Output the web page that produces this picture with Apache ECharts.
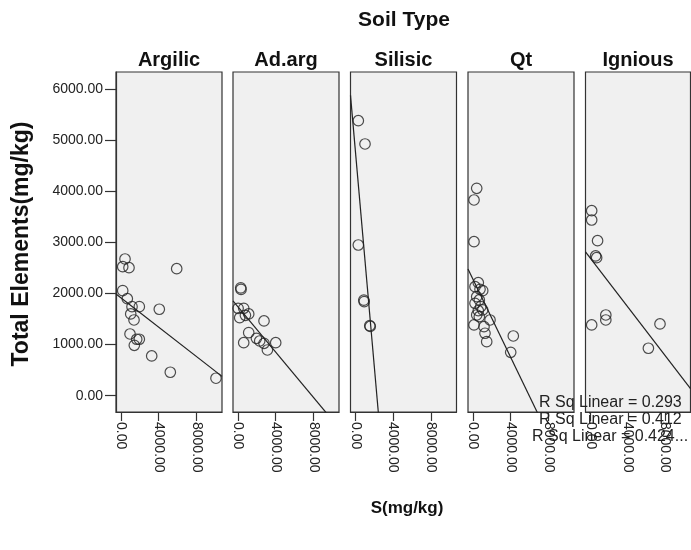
<!DOCTYPE html>
<html>
<head>
<meta charset="utf-8">
<script src="https://cdn.jsdelivr.net/npm/echarts@6/dist/echarts.min.js"></script>
<style>
html, body { margin: 0; padding: 0; background: #fff; }
#chart { width: 691px; height: 550px; }
</style>
</head>
<body>
<div id="chart"></div>
<script>
// soil types (panels)
var soilTypes = ['Argilic', 'Ad.arg', 'Silisic', 'Qt', 'Ignious'];

// S (mg/kg) and total elements (mg/kg) per soil type
var argilicS     = [434, 190, 857, 5905, 190, 677, 1175, 1947, 4063, 1037, 1386, 963, 1672, 1947, 1418, 3259, 5228, 10063];
var argilicTotal = [2675, 2524, 2505, 2485, 2055, 1898, 1742, 1742, 1691, 1599, 1481, 1207, 1104, 1104, 986, 777, 458, 341];

var adargS     = [300, 330, 20, 614, 1143, 190, 794, 2762, 1143, 614, 1958, 2307, 2762, 3122, 4000];
var adargTotal = [2110, 2080, 1710, 1710, 1599, 1526, 1573, 1462, 1233, 1037, 1123, 1070, 1025, 894, 1037];

var silisicS     = [307, 1016, 307, 890, 930, 1520, 1570];
var silisicTotal = [5382, 4926, 2949, 1870, 1840, 1370, 1355];

var qtS     = [402, 116, 116, 571, 222, 751, 1037, 402, 677, 222, 825, 571, 1037, 402, 677, 1810, 116, 1175, 1280, 1460, 4275, 4000];
var qtTotal = [4059, 3830, 3014, 2211, 2133, 2082, 2055, 1937, 1873, 1808, 1742, 1663, 1677, 1579, 1546, 1481, 1384, 1350, 1221, 1057, 1168, 849];

var igniousS     = [140, 140, 770, 560, 670, 140, 1650, 1650, 7440, 6200];
var igniousTotal = [3620, 3438, 3033, 2734, 2700, 1384, 1579, 1481, 1403, 928];

var yTicks = [0, 1000, 2000, 3000, 4000, 5000, 6000];
var xTicks = [0, 4000, 8000];
var rSqLabels = ['R Sq Linear = 0.293', 'R Sq Linear = 0.412', 'R Sq Linear = 0.424...'];

var xs = [argilicS, adargS, silisicS, qtS, igniousS];
var ys = [argilicTotal, adargTotal, silisicTotal, qtTotal, igniousTotal];

var X_MIN = -520, X_MAX = 10700, Y_MIN = -320, Y_MAX = 6335;
var FONT = '"Liberation Sans", Arial, sans-serif';

var panelLeft = [116, 233, 350.5, 468, 585.5];
var panelWidth = [106, 106, 106, 106, 105];
var panelTop = 72, panelHeight = 340;

function linFit(x, y) {
	var n = x.length, mx = 0, my = 0, sxy = 0, sxx = 0;
	for (var i = 0; i < n; i++) { mx += x[i]; my += y[i]; }
	mx /= n; my /= n;
	for (var j = 0; j < n; j++) {
		sxy += (x[j] - mx) * (y[j] - my);
		sxx += (x[j] - mx) * (x[j] - mx);
	}
	var b = sxy / sxx;
	return { a: my - b * mx, b: b };
}

var grids = [], xAxes = [], yAxes = [], series = [], graphics = [];

soilTypes.forEach(function (name, k) {
	grids.push({
		left: panelLeft[k], top: panelTop, width: panelWidth[k], height: panelHeight,
		show: true, backgroundColor: '#f0f0f0', borderColor: '#333', borderWidth: 1.2
	});
	xAxes.push({
		gridIndex: k, type: 'value', min: X_MIN, max: X_MAX,
		splitLine: { show: false },
		axisLine: { show: true, onZero: false, lineStyle: { color: '#333', width: 1.2 } },
		axisTick: { show: true, length: 9, customValues: xTicks, lineStyle: { color: '#333', width: 1.2 } },
		axisLabel: {
			customValues: xTicks, rotate: -90, margin: 10,
			color: '#222', fontSize: 14, fontFamily: FONT,
			formatter: function (v) { return v.toFixed(2); }
		}
	});
	yAxes.push({
		gridIndex: k, type: 'value', min: Y_MIN, max: Y_MAX,
		show: k === 0,
		splitLine: { show: false },
		axisLine: { show: true, onZero: false, lineStyle: { color: '#333', width: 1.2 } },
		axisTick: { show: true, length: 11, customValues: yTicks, lineStyle: { color: '#333', width: 1.2 } },
		axisLabel: {
			customValues: yTicks, margin: 13,
			color: '#222', fontSize: 14, fontFamily: FONT,
			formatter: function (v) { return v.toFixed(2); }
		}
	});

	var pts = xs[k].map(function (v, i) { return [v, ys[k][i]]; });
	series.push({
		type: 'scatter', xAxisIndex: k, yAxisIndex: k, data: pts,
		symbol: 'circle', symbolSize: 10.5, silent: true,
		itemStyle: { color: 'rgba(0,0,0,0)', borderColor: '#222', borderWidth: 1.2 }
	});

	var fit = linFit(xs[k], ys[k]);
	series.push({
		type: 'line', xAxisIndex: k, yAxisIndex: k, clip: true,
		showSymbol: false, silent: true,
		lineStyle: { color: '#222', width: 1.2 },
		data: [[X_MIN, fit.a + fit.b * X_MIN], [X_MAX, fit.a + fit.b * X_MAX]]
	});

	graphics.push({
		type: 'text', x: panelLeft[k] + panelWidth[k] / 2, y: 60,
		style: { text: name, textAlign: 'center', textVerticalAlign: 'middle', font: 'bold 20px ' + FONT, fill: '#111' }
	});
});

graphics.push({
	type: 'text', x: 404, y: 20,
	style: { text: 'Soil Type', textAlign: 'center', textVerticalAlign: 'middle', font: 'bold 21px ' + FONT, fill: '#111' }
});
graphics.push({
	type: 'text', x: 407, y: 508,
	style: { text: 'S(mg/kg)', textAlign: 'center', textVerticalAlign: 'middle', font: 'bold 17px ' + FONT, fill: '#111' }
});
graphics.push({
	type: 'text', x: 22, y: 244, rotation: Math.PI / 2,
	style: { text: 'Total Elements(mg/kg)', textAlign: 'center', textVerticalAlign: 'middle', font: 'bold 23px ' + FONT, fill: '#111' }
});

var rSqX = [539, 539, 532], rSqY = [403, 420, 437];
rSqLabels.forEach(function (t, i) {
	graphics.push({
		type: 'text', x: rSqX[i], y: rSqY[i], z: 100,
		style: { text: t, textVerticalAlign: 'middle', font: '16px ' + FONT, fill: '#222' }
	});
});

var chart = echarts.init(document.getElementById('chart'));
chart.setOption({
	animation: false,
	backgroundColor: '#fff',
	grid: grids,
	xAxis: xAxes,
	yAxis: yAxes,
	series: series,
	graphic: graphics
});
</script>
</body>
</html>
